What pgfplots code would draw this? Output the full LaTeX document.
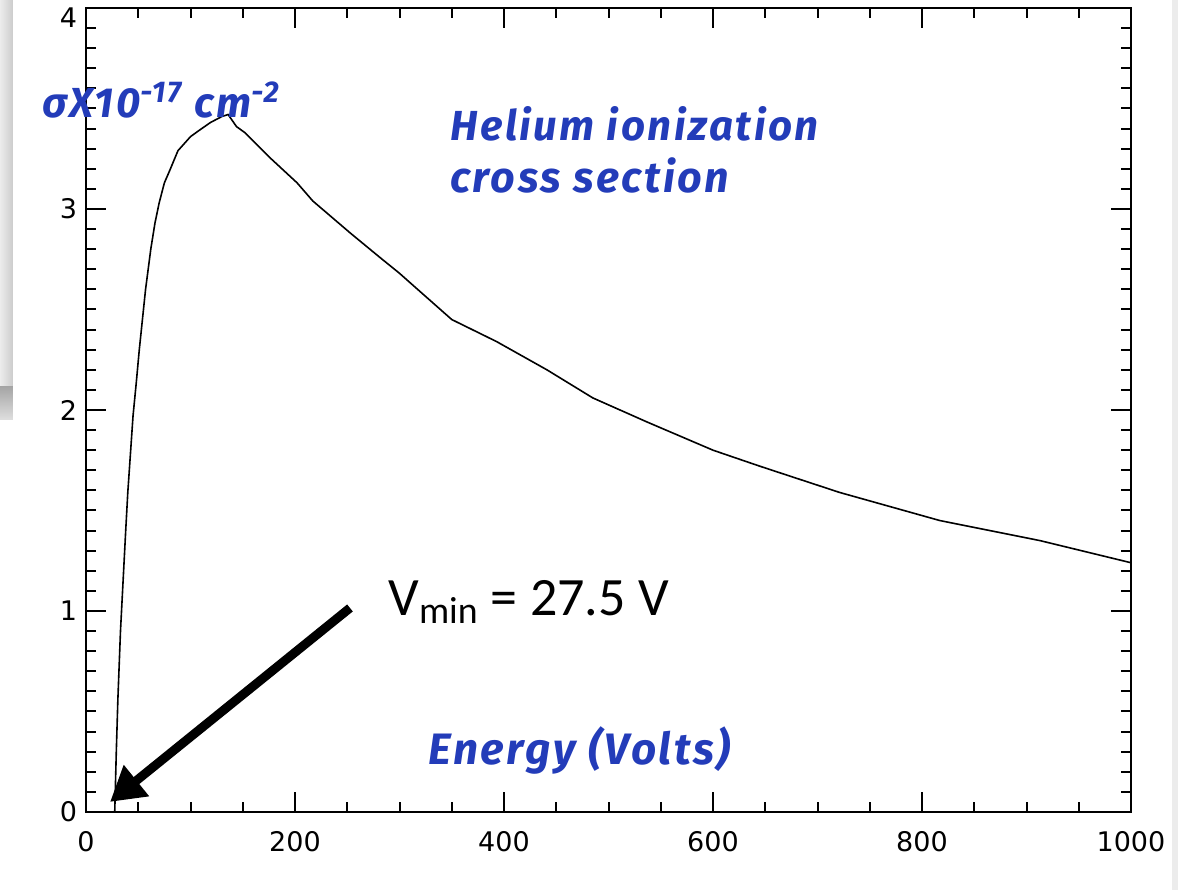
\documentclass[border=0pt]{standalone}
\usepackage{fontspec}
\setmainfont{Liberation Sans}
\newfontfamily\comic{Fira Sans}[LetterSpace=6]
\newfontfamily\calib{Carlito}
\newfontfamily\tickfont{DejaVu Sans}
\usepackage{pgfplots}
\pgfplotsset{compat=1.18}
\usetikzlibrary{arrows.meta}
\definecolor{txtblue}{RGB}{35,60,185}
\begin{document}
\begin{tikzpicture}
\begin{axis}[
  name=ax,
  scale only axis,
  width=522.5pt, height=402pt,
  xmin=0, xmax=1000, ymin=0, ymax=4,
  xtick={0,200,400,600,800,1000},
  xticklabels={0,200,400,600,800,1000},
  ytick={0,1,2,3,4},
  yticklabels={0,1,2,3,\raisebox{-10pt}[0pt][0pt]{4}},
  minor x tick num=3,
  minor y tick num=9,
  tick align=inside,
  major tick length=10pt,
  minor tick length=5pt,
  every tick/.style={black, line width=1pt},
  axis line style={line width=1.2pt},
  xticklabel style={font=\tickfont\fontsize{13.5}{16}\selectfont, yshift=-6pt},
  yticklabel style={font=\tickfont\fontsize{13.5}{16}\selectfont, xshift=-1pt},
  clip=false,
]
\addplot[black, line width=0.8pt] coordinates {
(27.5,0) (29,0.3) (30.5,0.56) (33,0.9) (35,1.1) (38,1.4) (40,1.59) (45,1.97)
(48,2.13) (51,2.30) (57,2.6) (62,2.80) (66,2.93) (70,3.03) (75,3.13) (80,3.19)
(88,3.29) (100,3.36) (108,3.39) (119,3.43) (130,3.46) (136,3.47) (140,3.44)
(144,3.41) (152,3.38) (175,3.26) (202,3.13) (217,3.04) (253,2.88) (281,2.76)
(300,2.68) (313,2.62) (350,2.45) (393,2.34) (441,2.20) (485,2.06) (537,1.94)
(600,1.80) (645,1.72) (721,1.59) (817,1.45) (913,1.35) (1000,1.24)
};
\node[anchor=base west, inner sep=0pt, text=txtblue, font=\comic\bfseries\itshape\fontsize{21}{25}\selectfont] at (axis cs:348,3.343) {Helium ionization};
\node[anchor=base west, inner sep=0pt, text=txtblue, font=\comic\bfseries\itshape\fontsize{21.5}{25}\selectfont] at (axis cs:348,3.08) {cross section};
\node[anchor=base west, inner sep=0pt, text=txtblue, font=\comic\bfseries\itshape\fontsize{21}{25}\selectfont] at (axis cs:-42,3.453) {σX10\textsuperscript{\fontsize{15}{17}\selectfont -17} cm\textsuperscript{\fontsize{15}{17}\selectfont -2}};
\node[anchor=base west, inner sep=0pt, text=txtblue, font=\comic\bfseries\itshape\fontsize{22}{26}\selectfont] at (axis cs:327,0.234) {Energy (Volts)};
\node[anchor=base west, inner sep=0pt, text=black, font=\calib\fontsize{27}{32}\selectfont] at (axis cs:289,0.98) {V\textsubscript{min} = 27.5 V};
\draw[black, line width=4.5pt, -{Triangle[length=17pt,width=19pt]}] (axis cs:252.6,1.015) -- (axis cs:23,0.05);
\end{axis}
\shade[left color=gray!15, right color=gray!40] ([xshift=-43pt,yshift=4pt]ax.north west) rectangle ([xshift=-36.5pt,yshift=-189.5pt]ax.north west);
\shade[top color=gray!70, bottom color=gray!25] ([xshift=-43pt,yshift=-189.5pt]ax.north west) rectangle ([xshift=-36.5pt,yshift=-206pt]ax.north west);
\fill[gray!15] ([xshift=20.5pt,yshift=4pt]ax.north east) rectangle ([xshift=23.5pt,yshift=-39pt]ax.south east);
\pgfresetboundingbox
\path ([xshift=-43pt,yshift=-39pt]ax.south west) rectangle ([xshift=23.5pt,yshift=4pt]ax.north east);
\end{tikzpicture}
\end{document}
